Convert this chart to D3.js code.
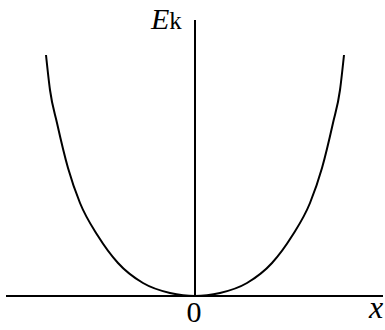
<!DOCTYPE html>
<html>
<head>
<meta charset="utf-8">
<script src="https://cdn.jsdelivr.net/npm/d3@7"></script>
<style>
  body { margin: 0; background: #fff; }
  svg text { font-family: "Liberation Serif", "Times New Roman", serif; }
</style>
</head>
<body>
<script>
// right half of the curve (mirrored for x < 0)
var xVals = [0, 12, 25, 52, 77, 97, 115, 127, 138, 145, 149];
var ekVals = [0, 0.7, 3, 13, 33, 60, 93, 128, 173, 206, 241];
var xLabel = "x";
var originLabel = "0";

var width = 385, height = 330;

var svg = d3.select("body").append("svg")
    .attr("width", width)
    .attr("height", height);

var x = d3.scaleLinear().domain([-189, 188]).range([6, 383]);
var y = d3.scaleLinear().domain([0, 276]).range([296, 20]);

var pts = [];
for (var i = xVals.length - 1; i > 0; i--) pts.push([-xVals[i], ekVals[i]]);
xVals.forEach((v, i) => pts.push([v, ekVals[i]]));

// axes
svg.append("line")
    .attr("x1", x(-189)).attr("x2", x(188))
    .attr("y1", y(0)).attr("y2", y(0))
    .attr("stroke", "#000").attr("stroke-width", 2);
svg.append("line")
    .attr("x1", x(0)).attr("x2", x(0))
    .attr("y1", y(0)).attr("y2", y(276))
    .attr("stroke", "#000").attr("stroke-width", 2);

// curve
var line = d3.line()
    .x(d => x(d[0]))
    .y(d => y(d[1]))
    .curve(d3.curveMonotoneX);

svg.append("path")
    .datum(pts)
    .attr("d", line)
    .attr("fill", "none")
    .attr("stroke", "#000")
    .attr("stroke-width", 2);

// labels
var ek = svg.append("text")
    .attr("x", 151).attr("y", 29)
    .attr("font-size", 30);
ek.append("tspan").attr("font-style", "italic").text("E");
ek.append("tspan").attr("font-size", 25).text("k");

svg.append("text")
    .attr("x", x(0) - 1).attr("y", 322)
    .attr("text-anchor", "middle")
    .attr("font-size", 30)
    .text(originLabel);

svg.append("text")
    .attr("x", 369).attr("y", 318)
    .attr("font-size", 32)
    .attr("font-style", "italic")
    .text(xLabel);
</script>
</body>
</html>
